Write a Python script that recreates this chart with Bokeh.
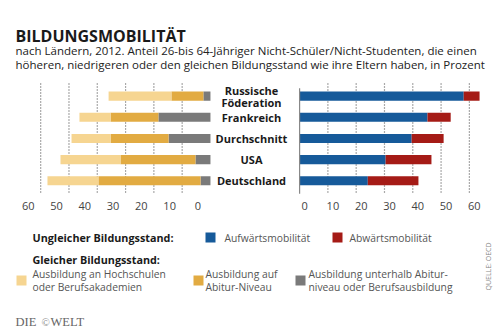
import numpy as np
from bokeh.plotting import figure
from bokeh.models import Range1d, Label, BoxAnnotation, ColumnDataSource
from bokeh.core.properties import value
from bokeh.embed import file_html
from bokeh.resources import INLINE

# ---------------- data ----------------
countries = ["Russische\nFöderation", "Frankreich", "Durchschnitt", "USA", "Deutschland"]
# Ungleicher Bildungsstand (right panel)
aufwaerts = [58.0, 45.2, 39.6, 30.4, 24.1]
abwaerts = [5.6, 8.2, 11.3, 16.2, 17.9]
# Gleicher Bildungsstand (left panel)
unterhalb = [2.5, 18.4, 14.8, 5.3, 3.5]
abitur = [11.3, 16.9, 20.5, 26.5, 36.1]
hochschule = [22.2, 11.0, 13.8, 21.2, 18.0]
ticks = [0, 10, 20, 30, 40, 50, 60]
tick_labels = ["0", "10", "20", "30", "40", "50", "60"]

# ---------------- styles ----------------
BLUE = "#165a9a"
RED = "#a51b16"
LIGHT = "#f6d591"
DARK = "#e2ab42"
GRAY = "#7a7a7a"
FONT = "Open Sans"
W, H = 500, 333

def sy(py):
    return H - py

p = figure(width=W, height=H, output_backend="svg", toolbar_location=None,
           x_range=Range1d(74.2, -102.5), y_range=Range1d(11.22, -4.52),
           min_border=0, x_axis_location=None, y_axis_location=None,
           outline_line_color=None, background_fill_color="white",
           border_fill_color="white")
p.grid.visible = False
p.extra_x_ranges = {"right": Range1d(-105.7, 71.0)}

idx = np.arange(len(countries))
g = np.array(unterhalb)
a = np.array(abitur)
h = np.array(hochschule)
up = np.array(aufwaerts)
dn = np.array(abwaerts)
BH = 0.43

# grid lines (dotted)
for t in ticks[1:]:
    p.segment(x0=t, x1=t, y0=-0.6, y1=4.62, line_color="#555555", line_width=1.2,
              line_dash="1 2")
    p.segment(x0=t, x1=t, y0=-0.6, y1=4.62, line_color="#555555", line_width=1.2,
              line_dash="1 2", x_range_name="right")

# left bars
p.hbar(y=idx, left=0, right=g, height=BH, fill_color=GRAY, line_color=None)
p.hbar(y=idx, left=g, right=g + a, height=BH, fill_color=DARK, line_color=None)
p.hbar(y=idx, left=g + a, right=g + a + h, height=BH, fill_color=LIGHT, line_color=None)

# right bars
p.hbar(y=idx, left=0, right=up, height=BH, fill_color=BLUE, line_color=None,
       x_range_name="right")
p.hbar(y=idx, left=up, right=up + dn, height=BH, fill_color=RED, line_color=None,
       x_range_name="right")
p.segment(x0=0, x1=0, y0=-0.37, y1=4.62, line_color="#888888", line_width=1.2,
          x_range_name="right")

# tick labels
tsrc = ColumnDataSource(dict(x=ticks, y=[5.17] * len(ticks), t=tick_labels))
p.text(x="x", y="y", text="t", source=tsrc, x_offset=-12.5, text_align="center",
       text_baseline="middle", text_font=value(FONT), text_font_size="11px",
       text_color="#444444")
p.text(x="x", y="y", text="t", source=tsrc, x_offset=5, text_align="center",
       text_baseline="middle", text_font=value(FONT), text_font_size="11px",
       text_color="#444444", x_range_name="right")

# country labels
csrc = ColumnDataSource(dict(x=[-14.5] * len(countries), y=idx, t=countries))
p.text(x="x", y="y", text="t", source=csrc, text_align="center",
       text_baseline="middle", text_font=value(FONT), text_font_size="11px",
       text_font_style="bold", text_color="#1a1a1a", text_line_height=0.8)

# title & subtitle
def lab(text, x, py, size, color="#222222", bold=False, align="left", angle=0, font=FONT):
    p.add_layout(Label(x=x, y=sy(py), x_units="screen", y_units="screen", text=text,
                       text_font=font, text_font_size=size, text_color=color,
                       text_font_style="bold" if bold else "normal",
                       text_align=align, text_baseline="middle", angle=angle))

lab("BILDUNGSMOBILITÄT", 15, 35, "16px", "#1a1a1a", bold=True)
lab("nach Ländern, 2012. Anteil 26-bis 64-Jähriger Nicht-Schüler/Nicht-Studenten, die einen",
    15, 50, "11.5px", "#222222")
lab("höheren, niedrigeren oder den gleichen Bildungsstand wie ihre Eltern haben, in Prozent",
    15, 64, "11.5px", "#222222")

# legend
def box(x0, x1, py0, py1, color):
    p.add_layout(BoxAnnotation(left=x0, right=x1, top=sy(py0), bottom=sy(py1),
                               left_units="screen", right_units="screen",
                               top_units="screen", bottom_units="screen",
                               fill_color=color, fill_alpha=1, line_color=None))

lab("Ungleicher Bildungsstand:", 32, 237, "10.8px", "#1a1a1a", bold=True)
box(205, 215, 232, 242, BLUE)
lab("Aufwärtsmobilität", 224, 237, "10.3px", "#555555")
box(332, 342, 232, 242, RED)
lab("Abwärtsmobilität", 349, 237, "10.3px", "#555555")

lab("Gleicher Bildungsstand:", 32, 259, "10.8px", "#1a1a1a", bold=True)
box(16, 26, 275, 285, LIGHT)
lab("Ausbildung an Hochschulen", 32, 273, "10.3px", "#555555")
lab("oder Berufsakademien", 32, 286, "10.3px", "#555555")
box(193, 203, 275, 285, DARK)
lab("Ausbildung auf", 205, 273, "10.3px", "#555555")
lab("Abitur-Niveau", 205, 286, "10.3px", "#555555")
box(295, 305, 275, 285, GRAY)
lab("Ausbildung unterhalb Abitur-", 308, 273, "10.3px", "#555555")
lab("niveau oder Berufsausbildung", 308, 286, "10.3px", "#555555")

lab("QUELLE: OECD", 488, 266, "7px", "#888888", align="center", angle=np.pi / 2)
lab("DIE", 15, 321, "12.5px", "#666666", font="Liberation Serif")
lab("©", 41, 321, "11px", "#888888", font="Liberation Serif")
lab("WELT", 50, 321, "12.5px", "#666666", font="Liberation Serif")

open("out.html", "w").write(file_html(p, INLINE))
